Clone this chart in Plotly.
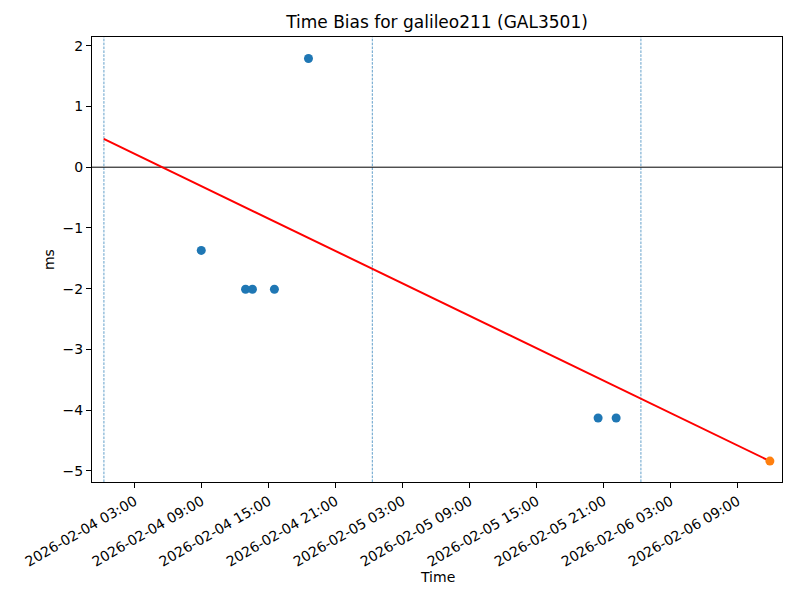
import plotly.graph_objects as go

# observed time bias samples
obs_times = [
    "2026-02-04 08:58",
    "2026-02-04 12:56",
    "2026-02-04 13:33",
    "2026-02-04 15:31",
    "2026-02-04 18:34",
    "2026-02-05 20:30",
    "2026-02-05 22:07",
]
obs_values = [-1.37, -2.01, -2.01, -2.01, 1.79, -4.13, -4.13]

# latest sample (highlighted)
last_time = ["2026-02-06 11:53"]
last_value = [-4.84]

# fitted trend line
fit_times = ["2026-02-04 00:14", "2026-02-06 11:53"]
fit_values = [0.466, -4.84]

# day markers
day_lines = ["2026-02-04 00:15", "2026-02-05 00:17", "2026-02-06 00:20"]

tick_vals = [
    "2026-02-04 03:00", "2026-02-04 09:00", "2026-02-04 15:00", "2026-02-04 21:00",
    "2026-02-05 03:00", "2026-02-05 09:00", "2026-02-05 15:00", "2026-02-05 21:00",
    "2026-02-06 03:00", "2026-02-06 09:00",
]
tick_text = [t for t in tick_vals]

x_range = ["2026-02-03 23:11", "2026-02-06 12:58"]
y_range = [-5.184, 2.144]

FONT = "DejaVu Sans"

# page body has an 8px margin, so the figure is sized to fit the 800x600 window
W, H = 792, 584

fig = go.Figure()

for d in day_lines:
    fig.add_shape(
        type="line", xref="x", yref="paper", x0=d, x1=d, y0=0, y1=1,
        line=dict(color="#1f77b4", width=0.7, dash="2.6px,1.3px"), layer="below",
    )

fig.add_shape(
    type="line", xref="paper", yref="y", x0=0, x1=1, y0=0, y1=0,
    line=dict(color="black", width=1), layer="below",
)

fig.add_trace(go.Scatter(
    x=fit_times, y=fit_values, mode="lines",
    line=dict(color="red", width=2), showlegend=False,
))
fig.add_trace(go.Scatter(
    x=obs_times, y=obs_values, mode="markers",
    marker=dict(color="#1f77b4", size=9), showlegend=False,
))
fig.add_trace(go.Scatter(
    x=last_time, y=last_value, mode="markers",
    marker=dict(color="#ff7f0e", size=9), showlegend=False,
))

axis_common = dict(
    showgrid=False, zeroline=False, showline=True, linecolor="black", linewidth=1,
    mirror=True, ticks="outside", ticklen=5, tickwidth=1, tickcolor="black",
    tickfont=dict(family=FONT, size=14, color="black"),
)

fig.update_xaxes(
    type="date", range=x_range, tickmode="array", tickvals=tick_vals,
    ticktext=tick_text, tickangle=-30, **axis_common,
)
fig.update_yaxes(
    range=y_range, tickmode="array", tickvals=[2, 1, 0, -1, -2, -3, -4, -5],
    ticktext=["2", "1", "0", "\u22121", "\u22122", "\u22123", "\u22124", "\u22125"],
    **axis_common,
)

fig.update_layout(
    width=W, height=H,
    margin=dict(l=84, r=18, t=29, b=110, autoexpand=False),
    paper_bgcolor="white", plot_bgcolor="white",
    title=dict(
        text="Time Bias for galileo211 (GAL3501)", x=0.5, xref="paper",
        y=1 - 14 / H, yref="container", yanchor="middle", xanchor="center",
        font=dict(family=FONT, size=17, color="black"),
    ),
    annotations=[
        dict(text="Time", xref="paper", yref="paper", x=0.5, y=-0.213,
             xanchor="center", yanchor="middle",
             showarrow=False, font=dict(family=FONT, size=14, color="black")),
        dict(text="ms", xref="paper", yref="paper", x=-0.063, y=0.5, textangle=-90,
             xanchor="center", yanchor="middle",
             showarrow=False, font=dict(family=FONT, size=14, color="black")),
    ],
)

fig.write_html("out.html")
